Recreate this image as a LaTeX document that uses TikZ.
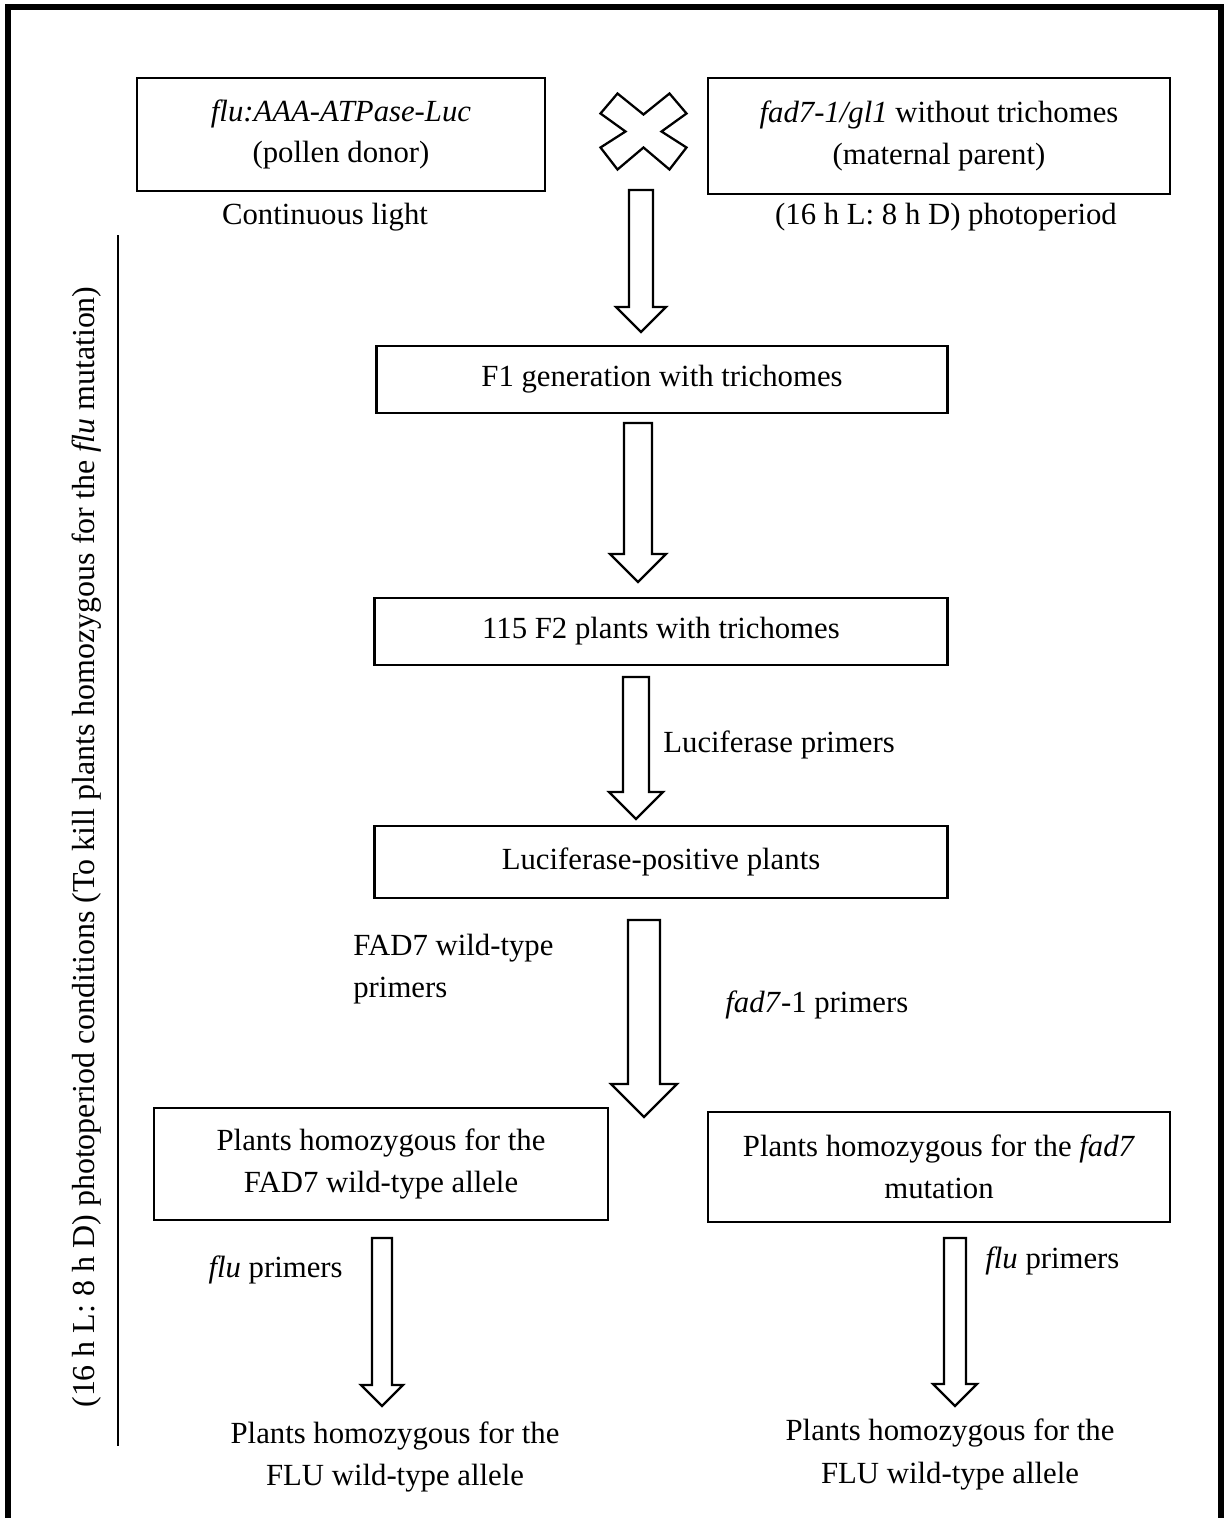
\documentclass[tikz,border=0pt]{standalone}
\usepackage{fontspec}
\setmainfont{Liberation Serif}
\usetikzlibrary{calc}
\tikzset{
  stage/.style={draw,line width=1.4pt,align=center,inner sep=0pt,font=\fontsize{17.5}{23.8}\selectfont},
  lbl/.style={align=center,inner sep=0pt,font=\fontsize{17.5}{23.8}\selectfont},
  fatarr/.style={draw,line width=1.3pt,fill=white,line join=miter},
  frame/.style={line width=3.4pt},
  side/.style={line width=0.7pt}
}
% hollow block arrow: start, tip, shaft half width, head half width
\newcommand{\fatarrow}[4]{%
  \draw[fatarr] ($(#1)+(-#3,0)$) -- ($(#2)+(-#3,-#4)$) -- ($(#2)+(-#4,-#4)$) -- (#2)
    -- ($(#2)+(#4,-#4)$) -- ($(#2)+(#3,-#4)$) -- ($(#1)+(#3,0)$) -- cycle;}

\begin{document}
\begin{tikzpicture}[x=0.02cm,y=-0.02cm]
  \useasboundingbox (0,0) rectangle (1227,1518);
  \draw[frame] (8,1518) -- (8,7) -- (1221,7) -- (1221,1518);

  % parents
  \node[stage,minimum width=8.16cm,minimum height=2.26cm] (donor) at (341,134.5)
    {\textit{flu:AAA-ATPase-Luc}\\(pollen donor)};
  \node[stage,minimum width=9.24cm,minimum height=2.32cm] (maternal) at (939,136)
    {\textit{fad7-1/gl1} without trichomes\\(maternal parent)};
  \node[lbl,anchor=base] (light) at (325,224) {Continuous light};
  \node[lbl,anchor=base] (photo) at (946,224) {(16 h L: 8 h D) photoperiod};
  \draw[fatarr,shift={(643.5,131.5)}] (-26,-38) -- (0,-17) -- (26,-38) -- (43,-18) -- (18,0)
    -- (43,16) -- (26,38) -- (0,16) -- (-26,38) -- (-43,16) -- (-18,0) -- (-43,-18) -- cycle;

  % selection steps
  \node[stage,minimum width=11.42cm,minimum height=1.34cm] (F1) at (662,379.5) {F1 generation with trichomes};
  \node[stage,minimum width=11.46cm,minimum height=1.34cm] (F2) at (661,631.5) {115 F2 plants with trichomes};
  \node[stage,minimum width=11.46cm,minimum height=1.44cm] (luc) at (661,862) {Luciferase-positive plants};
  \node[stage,minimum width=9.08cm,minimum height=2.24cm] (homWT) at (381,1164)
    {Plants homozygous for the\\FAD7 wild-type allele};
  \node[stage,minimum width=9.24cm,minimum height=2.2cm] (homMut) at (939,1167)
    {Plants homozygous for the \textit{fad7}\\mutation};
  \node[lbl,anchor=base] (endWT) at (395,1443) {Plants homozygous for the};
  \node[lbl,anchor=base] at (395,1485) {FLU wild-type allele};
  \node[lbl,anchor=base] (endMut) at (950,1440) {Plants homozygous for the};
  \node[lbl,anchor=base] at (950,1483) {FLU wild-type allele};

  % primer labels
  \node[lbl,anchor=base west] (lucP) at (663,752) {Luciferase primers};
  \node[lbl,anchor=base west,align=left] (wtP) at (353,997) {FAD7 wild-type\\primers};
  \node[lbl,anchor=base west] (mutP) at (725,1012) {\textit{fad7}-1 primers};
  \node[lbl,anchor=base east] (fluL) at (343,1277) {\textit{flu} primers};
  \node[lbl,anchor=base west] (fluR) at (985,1268) {\textit{flu} primers};

  % arrows
  \coordinate (a1) at (641,190);  \coordinate (b1) at (641,332);
  \coordinate (a2) at (638,423);  \coordinate (b2) at (638,582);
  \coordinate (a3) at (636,677);  \coordinate (b3) at (636,819);
  \coordinate (a4) at (644,920);  \coordinate (b4) at (644,1117);
  \coordinate (a5) at (382,1238); \coordinate (b5) at (382,1406);
  \coordinate (a6) at (955,1238); \coordinate (b6) at (955,1406);
  \fatarrow{a1}{b1}{12}{25}
  \fatarrow{a2}{b2}{14}{28}
  \fatarrow{a3}{b3}{13}{27}
  \fatarrow{a4}{b4}{16}{33}
  \fatarrow{a5}{b5}{10}{21}
  \fatarrow{a6}{b6}{11}{22}

  % growth conditions
  \coordinate (s1) at (118,235); \coordinate (s2) at (118,1446);
  \draw[side] (s1) -- (s2);
  \node[lbl,rotate=90,font=\fontsize{18.2}{24}\selectfont] (cond) at (87,847)
    {(16 h L: 8 h D) photoperiod conditions (To kill plants homozygous for the \textit{flu} mutation)};
\end{tikzpicture}
\end{document}
